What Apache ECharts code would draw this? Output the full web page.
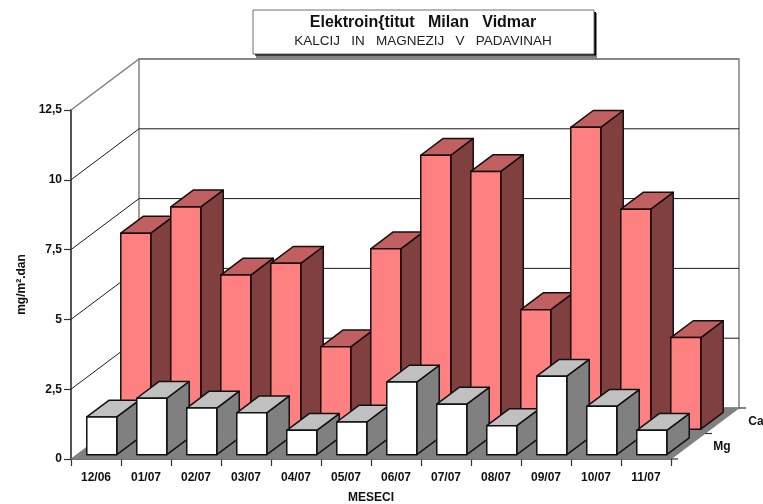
<!DOCTYPE html>
<html><head><meta charset="utf-8">
<style>html,body{margin:0;padding:0;background:#fff}#c{width:763px;height:504px}</style>
<script src="https://cdn.jsdelivr.net/npm/echarts@6/dist/echarts.min.js"></script>
</head><body><div id="c"></div>
<script>
const months = ['12/06','01/07','02/07','03/07','04/07','05/07','06/07','07/07','08/07','09/07','10/07','11/07'];
const caValues = [7.02,7.96,5.52,5.94,2.95,6.46,9.81,9.23,4.28,10.81,7.88,3.28];
const mgValues = [1.35,2.02,1.67,1.50,0.87,1.17,2.60,1.81,1.04,2.81,1.73,0.87];
const yTicks = [0,2.5,5,7.5,10,12.5];
const yTickLabels = ['0','2,5','5','7,5','10','12,5'];
const depthNames = ['Mg','Ca'];
const titleText = 'Elektroin{titut   Milan   Vidmar';
const subtitleText = 'KALCIJ   IN   MAGNEZIJ   V   PADAVINAH';

const FONT = '"Liberation Sans", Arial, sans-serif';
const DX = 68, DY = 51, ROWS = 2, BAR_FRAC = 0.6, BAR_DEPTH = 0.66;
const LINE = '#1a0d0d';

function barSeries(values, row, cols, outline) {
  const rowDx = DX / ROWS, rowDy = DY / ROWS;
  const inset = (1 - BAR_DEPTH) / 2;
  const ox = rowDx * (row + inset), oy = rowDy * (row + inset);
  const dx = rowDx * BAR_DEPTH, dy = rowDy * BAR_DEPTH;
  return {
    type: 'custom', silent: true, animation: false, z: 3 + (ROWS - row),
    data: values.map((v, i) => [i, v]),
    renderItem(params, api) {
      const i = api.value(0);
      const base = api.coord([i, 0]), top = api.coord([i, api.value(1)]);
      const w = api.size([1, 0])[0] * BAR_FRAC;
      const l = base[0] - w / 2 + ox, r = l + w;
      const b = base[1] - oy, t = top[1] - oy;
      const st = f => ({ fill: f, stroke: outline, lineWidth: 1.5, lineJoin: 'round' });
      return { type: 'group', children: [
        { type: 'polygon', shape: { points: [[r, b], [r + dx, b - dy], [r + dx, t - dy], [r, t]] }, style: st(cols.side) },
        { type: 'polygon', shape: { points: [[l, t], [r, t], [r + dx, t - dy], [l + dx, t - dy]] }, style: st(cols.top) },
        { type: 'rect', shape: { x: l, y: t, width: w, height: b - t }, style: st(cols.front) }
      ]};
    }
  };
}

const backdrop = {
  type: 'custom', silent: true, animation: false, z: 1,
  data: [[0, 0]],
  renderItem(params, api) {
    const cs = params.coordSys;
    const y0 = api.coord([0, 0])[1], yTop = api.coord([0, yTicks[yTicks.length - 1]])[1];
    const xl = cs.x, xr = cs.x + cs.width;
    return { type: 'group', children: [
      { type: 'polygon', shape: { points: [[xl + DX, yTop - DY], [xr + DX, yTop - DY], [xr + DX, y0 - DY], [xl + DX, y0 - DY]] },
        style: { fill: '#fff', stroke: '#808080', lineWidth: 1.5 } },
      { type: 'polygon', shape: { points: [[xl, y0], [xr, y0], [xr + DX, y0 - DY], [xl + DX, y0 - DY]] },
        style: { fill: '#808080', stroke: '#808080', lineWidth: 1 } }
    ]};
  }
};

const gridLines = {
  type: 'custom', silent: true, animation: false, z: 2,
  data: yTicks.slice(1).map(v => [0, v]),
  renderItem(params, api) {
    const cs = params.coordSys;
    const v = api.value(1), y = api.coord([0, v])[1];
    const last = v === yTicks[yTicks.length - 1];
    return { type: 'polyline',
      shape: { points: [[cs.x, y], [cs.x + DX, y - DY], [cs.x + cs.width + DX, y - DY]] },
      style: { fill: 'none', stroke: last ? '#808080' : '#1a1a1a', lineWidth: last ? 1.5 : 1 } };
  }
};

const depthAxis = {
  type: 'custom', silent: true, animation: false, z: 8,
  data: [[0, 0], [0, 1], [0, 2]],
  renderItem(params, api) {
    const cs = params.coordSys;
    const n = api.value(1), k = n / ROWS;
    const y0 = api.coord([0, 0])[1];
    const x = cs.x + cs.width + DX * k, y = y0 - DY * k;
    const kids = [
      { type: 'line', shape: { x1: x, y1: y, x2: x + 7, y2: y }, style: { stroke: '#333', lineWidth: 1.2 } }
    ];
    if (n > 0) kids.push({ type: 'text', x: x + 17, y: y + 13.5,
      style: { text: depthNames[n - 1], font: 'bold 12px ' + FONT, fill: '#111', align: 'center', verticalAlign: 'middle' } });
    return { type: 'group', children: kids };
  }
};

const chart = echarts.init(document.getElementById('c'), null, { renderer: 'canvas' });
chart.setOption({
  animation: false,
  backgroundColor: '#fff',
  title: {
    left: 423, top: 14, textAlign: 'center', itemGap: 3, padding: 0,
    text: titleText, subtext: subtitleText,
    textStyle: { fontFamily: FONT, fontWeight: 'bold', fontSize: 16, color: '#111', lineHeight: 17 },
    subtextStyle: { fontFamily: FONT, fontSize: 13.5, color: '#222', lineHeight: 14 }
  },
  graphic: { elements: [
    { type: 'rect', z: -1, shape: { x: 256, y: 13, width: 341, height: 45 }, style: { fill: '#808080' } },
    { type: 'rect', z: -1, shape: { x: 255, y: 12, width: 341, height: 43.5 }, style: { fill: '#000' } },
    { type: 'rect', z: -1, shape: { x: 253, y: 10, width: 341, height: 44 }, style: { fill: '#fff', stroke: '#707070', lineWidth: 1 } }
  ]},
  grid: { left: 71, right: 92, top: 110, bottom: 45, outerBoundsMode: 'none' },
  xAxis: {
    type: 'category', data: months, boundaryGap: true,
    name: 'MESECI', nameLocation: 'middle', nameGap: 33,
    nameTextStyle: { fontFamily: FONT, fontWeight: 'bold', fontSize: 12, color: '#111' },
    axisLine: { lineStyle: { color: '#333', width: 1.5 } },
    axisTick: { show: true, alignWithLabel: false, length: 7, lineStyle: { color: '#333', width: 1.2 } },
    axisLabel: { interval: 0, margin: 13, fontFamily: FONT, fontWeight: 'bold', fontSize: 12, color: '#111' }
  },
  yAxis: {
    type: 'value', min: 0, max: 12.5, interval: 2.5,
    name: 'mg/m².dan', nameLocation: 'middle', nameGap: 43, nameRotate: 90,
    nameTextStyle: { fontFamily: FONT, fontWeight: 'bold', fontSize: 12, color: '#111' },
    axisLine: { show: true, onZero: false, lineStyle: { color: '#555', width: 2 } },
    axisTick: { show: true, length: 7, lineStyle: { color: '#333', width: 1.2 } },
    splitLine: { show: false },
    axisLabel: { margin: 9, fontFamily: FONT, fontWeight: 'bold', fontSize: 12, color: '#111',
      formatter: v => yTickLabels[yTicks.indexOf(v)] }
  },
  series: [
    backdrop, gridLines,
    barSeries(caValues, 1, { front: '#ff8080', top: '#c06060', side: '#804040' }, LINE),
    barSeries(mgValues, 0, { front: '#ffffff', top: '#c0c0c0', side: '#808080' }, '#111'),
    depthAxis
  ]
});
</script></body></html>
